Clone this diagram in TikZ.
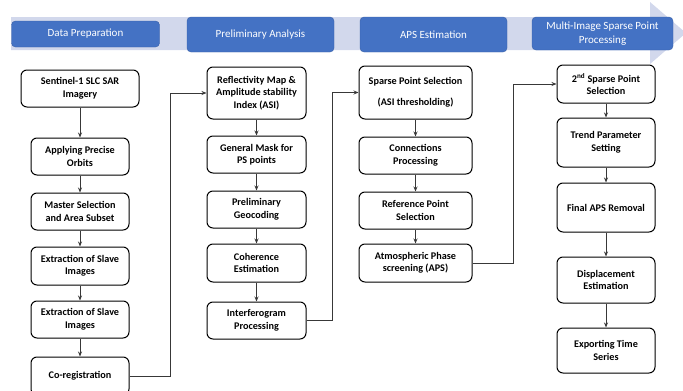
\documentclass[tikz,border=0pt]{standalone}
\usepackage{fontspec}
\setmainfont{Carlito}
\usepackage{tikz}
\usetikzlibrary{arrows.meta}

\definecolor{bandcol}{HTML}{D2D8EC}
\definecolor{headcol}{HTML}{4472C4}
\definecolor{linkcol}{HTML}{383838}

\tikzset{
    stage/.style={fill=headcol, draw=headcol!85!black, line width=0.4pt, rounded corners=4pt,
        text=white, align=center, inner sep=1pt, font=\fontsize{11}{14.5}\selectfont},
    task/.style={draw=black, line width=1pt, rounded corners=6pt, fill=white,
        align=center, inner sep=1pt, font=\fontsize{10.2}{12.5}\selectfont\bfseries},
    link/.style={draw=linkcol, line width=0.9pt, -{Stealth[length=5pt,width=4pt]}}
}

\begin{document}
\begin{tikzpicture}[x=1pt,y=-1pt]

\useasboundingbox (0,0) rectangle (683,391);

% phase band
\fill[bandcol] (11,17) -- (650,17) -- (650,2) -- (686,33) -- (650,64) -- (650,50) -- (11,50) -- cycle;

% phase headers
\node[stage, minimum width=148, minimum height=26] (h1) at (85.5,34)  {Data Preparation};
\node[stage, minimum width=147, minimum height=35] (h2) at (260.5,34.5) {Preliminary Analysis};
\node[stage, minimum width=147, minimum height=35] (h3) at (433.5,34.5) {APS Estimation};
\node[stage, minimum width=141, minimum height=33] (h4) at (602.5,33.5) {Multi-Image Sparse Point\\Processing};

% data preparation
\node[task, minimum width=118, minimum height=37] (sen)  at (80,88.5)  {Sentinel-1 SLC SAR\\Imagery};
\node[task, minimum width=98,  minimum height=37] (orb)  at (80,156.5) {Applying Precise\\Orbits};
\node[task, minimum width=98,  minimum height=37] (mas)  at (80,211.5) {Master Selection\\and Area Subset};
\node[task, minimum width=98,  minimum height=38] (ext1) at (80,266)   {Extraction of Slave\\Images};
\node[task, minimum width=98,  minimum height=37] (ext2) at (80,319.5) {Extraction of Slave\\Images};
\node[task, minimum width=98,  minimum height=38] (cor)  at (80,376)   {Co-registration};

% preliminary analysis
\node[task, minimum width=99, minimum height=52] (refl) at (256.5,93)    {Reflectivity Map \&\\Amplitude stability\\Index (ASI)};
\node[task, minimum width=99, minimum height=37] (mask) at (256.5,154.5) {General Mask for\\PS points};
\node[task, minimum width=99, minimum height=37] (geo)  at (256.5,209.5) {Preliminary\\Geocoding};
\node[task, minimum width=99, minimum height=38] (coh)  at (256.5,263)   {Coherence\\Estimation};
\node[task, minimum width=99, minimum height=37] (ifg)  at (256.5,320.5) {Interferogram\\Processing};

% aps estimation
\node[task, minimum width=113, minimum height=53] (sps) at (415.5,92.5)  {Sparse Point Selection\\[9pt](ASI thresholding)};
\node[task, minimum width=113, minimum height=37] (con) at (415.5,155.5) {Connections\\Processing};
\node[task, minimum width=113, minimum height=37] (rps) at (415.5,210.5) {Reference Point\\Selection};
\node[task, minimum width=113, minimum height=38] (atm) at (415.5,263)   {Atmospheric Phase\\screening (APS)};

% multi-image sparse point processing
\node[task, minimum width=98, minimum height=38] (sps2)  at (606,84)    {2\textsuperscript{nd} Sparse Point\\Selection};
\node[task, minimum width=98, minimum height=49] (trend) at (606,142.5) {Trend Parameter\\Setting};
\node[task, minimum width=98, minimum height=49] (aps)   at (606,207.5) {Final APS Removal};
\node[task, minimum width=98, minimum height=46] (disp)  at (606,280)   {Displacement\\Estimation};
\node[task, minimum width=98, minimum height=45] (exp)   at (606,350.5) {Exporting Time\\Series};

% links inside columns
\draw[link] (sen) -- (orb);
\draw[link] (orb) -- (mas);
\draw[link] (mas) -- (ext1);
\draw[link] (ext1) -- (ext2);
\draw[link] (ext2) -- (cor);

\draw[link] (refl) -- (mask);
\draw[link] (mask) -- (geo);
\draw[link] (geo) -- (coh);
\draw[link] (coh) -- (ifg);

\draw[link] (sps) -- (con);
\draw[link] (con) -- (rps);
\draw[link] (rps) -- (atm);

\draw[link] (sps2) -- (trend);
\draw[link] (trend) -- (aps);
\draw[link] (aps) -- (disp);
\draw[link] (disp) -- (exp);

% links between columns
\draw[link] (cor.east) -- ++(41,0) |- (refl.west);
\draw[link] (ifg.east) -- ++(26,0) |- (sps.west);
\draw[link] (atm.east) -- ++(41,0) |- (sps2.west);

\end{tikzpicture}
\end{document}
